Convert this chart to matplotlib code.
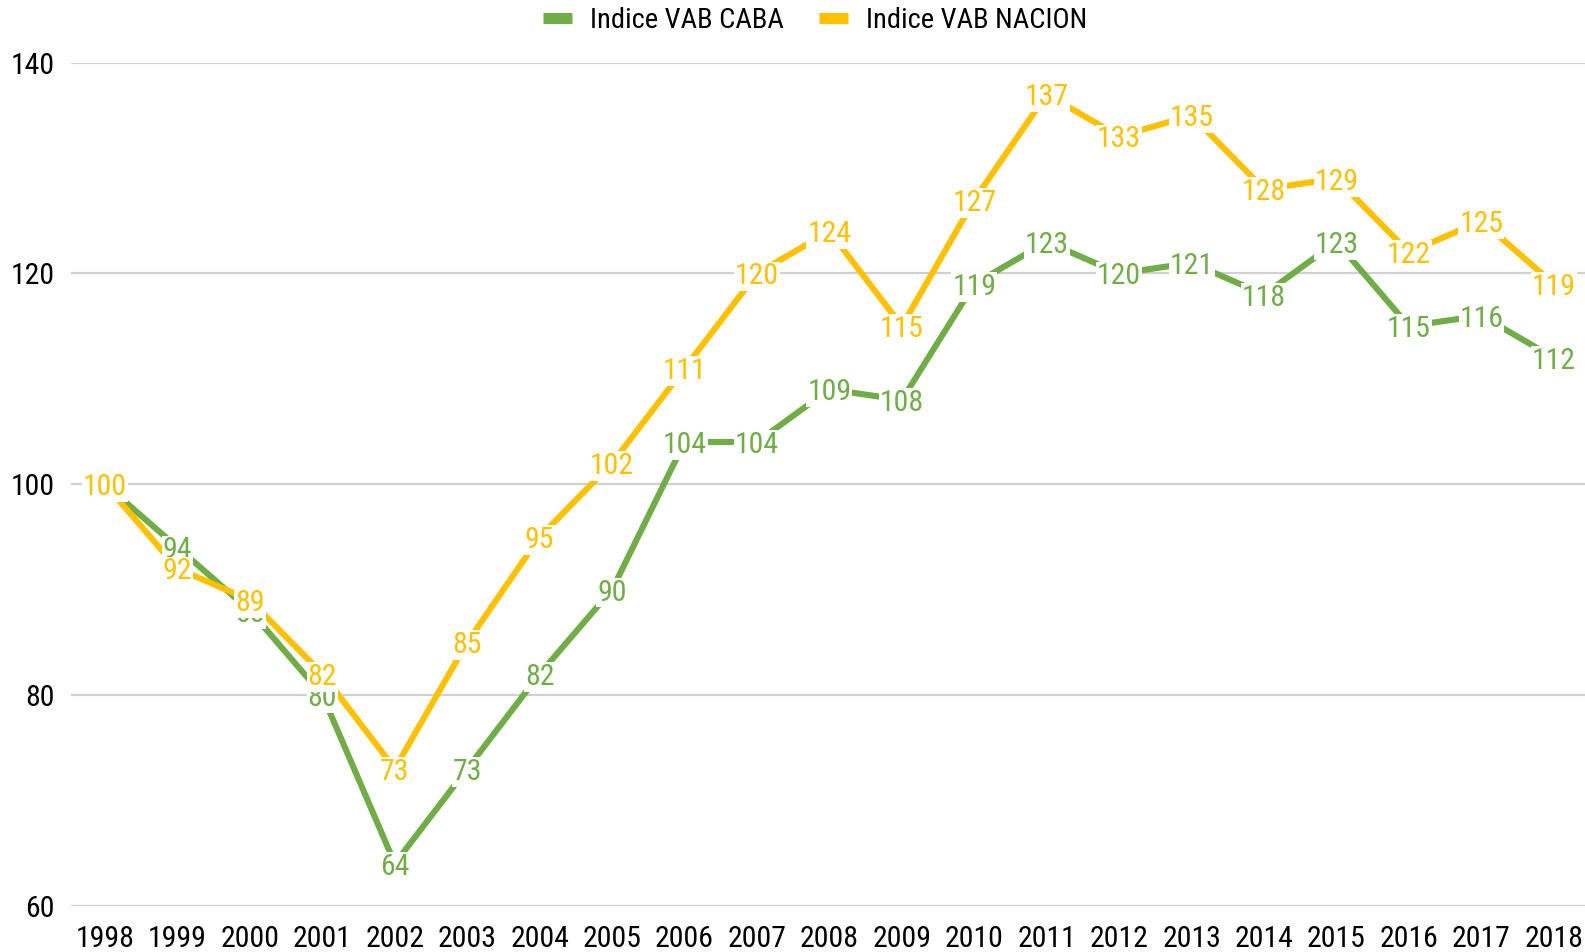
import matplotlib
matplotlib.use("Agg")
import matplotlib.pyplot as plt
from matplotlib.lines import Line2D

plt.rcParams['font.family'] = ['Roboto Condensed', 'IBM Plex Sans Condensed', 'DejaVu Sans']

years = [str(y) for y in range(1998, 2019)]
caba = [100, 94, 88, 80, 64, 73, 82, 90, 104, 104, 109, 108, 119, 123, 120, 121, 118, 123, 115, 116, 112]
nacion = [100, 92, 89, 82, 73, 85, 95, 102, 111, 120, 124, 115, 127, 137, 133, 135, 128, 129, 122, 125, 119]
yticks = [60, 80, 100, 120, 140]

GREEN = '#70AD47'
YELLOW = '#FFC000'
FS = 21.5
LFS = 20.5

W, H = 1585, 952
fig = plt.figure(figsize=(W / 100, H / 100), dpi=100)
left, top, bottom = 71, 62.7, 905.7
ax = fig.add_axes([left / W, 1 - bottom / H, 1 - left / W, (bottom - top) / H])

x = list(range(len(years)))
ax.plot(x, caba, color=GREEN, lw=4.4, zorder=3, solid_capstyle='round')
ax.plot(x, nacion, color=YELLOW, lw=4.4, zorder=3, solid_capstyle='round')

for xi, v in zip(x, caba):
    ax.text(xi, v, f"{v:.0f}", color=GREEN, fontsize=FS, ha='center', va='center_baseline',
            zorder=5, bbox=dict(facecolor='white', edgecolor='none', pad=0.6))
for xi, v in zip(x, nacion):
    ax.text(xi, v, f"{v:.0f}", color=YELLOW, fontsize=FS, ha='center', va='center_baseline',
            zorder=6, bbox=dict(facecolor='white', edgecolor='none', pad=0.6))

ax.set_xlim(-0.47, len(years) - 1 + 0.43)
ax.set_ylim(60, 140)
ax.set_yticks(yticks)
ax.set_yticklabels([str(t) for t in yticks])
ax.set_xticks(x)
ax.set_xticklabels(years)
ax.tick_params(axis='both', length=0, labelsize=FS, colors='black')
ax.tick_params(axis='y', pad=12)
ax.tick_params(axis='x', pad=14)
ax.grid(axis='y', color='#D0D0D0', lw=1.6, zorder=1)
for s in ax.spines.values():
    s.set_visible(False)
ax.set_axisbelow(True)

handles = [Line2D([], [], color=GREEN, lw=8, solid_capstyle='butt'),
           Line2D([], [], color=YELLOW, lw=8, solid_capstyle='butt')]
fig.legend(handles, ['Indice VAB CABA', 'Indice VAB NACION'], loc='center',
           bbox_to_anchor=(815 / W, 1 - 20 / H), ncol=2, frameon=False,
           fontsize=LFS, handlelength=1.0, handletextpad=0.63, columnspacing=1.26)

fig.savefig('out.png', dpi=100, facecolor='white')
